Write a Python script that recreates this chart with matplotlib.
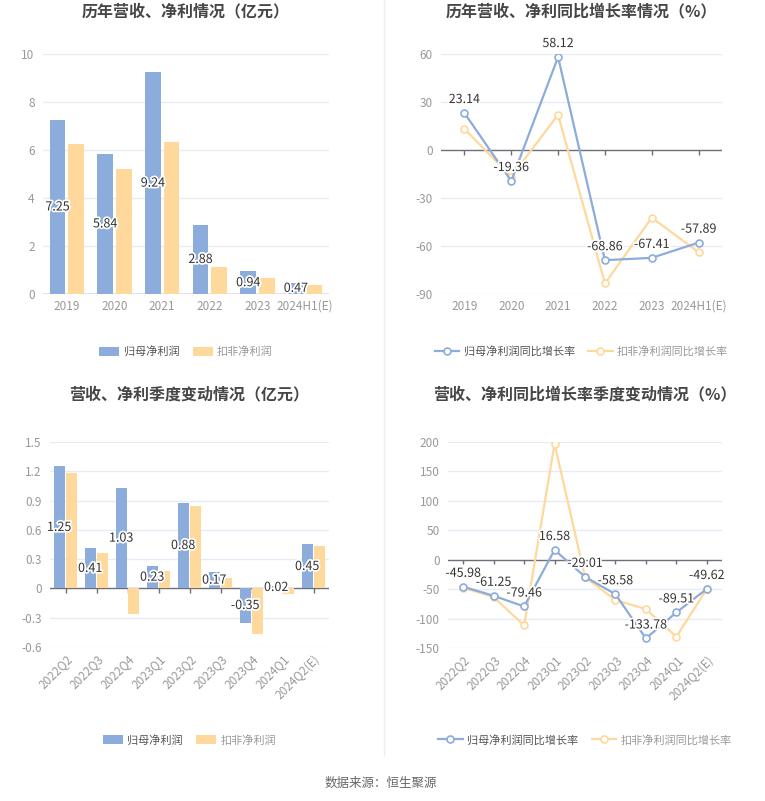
import matplotlib
matplotlib.use('Agg')
import matplotlib.pyplot as plt
import matplotlib.patheffects as pe
import numpy as np

plt.rcParams['font.family'] = ['Noto Sans CJK SC', 'DejaVu Sans']

# yearly data
years = ['2019', '2020', '2021', '2022', '2023', '2024H1(E)']
np_year = [7.25, 5.84, 9.24, 2.88, 0.94, 0.47]      # 归母净利润
kf_year = [6.24, 5.20, 6.35, 1.12, 0.66, 0.39]      # 扣非净利润
np_year_g = [23.14, -19.36, 58.12, -68.86, -67.41, -57.89]
kf_year_g = [13.2, -16.6, 22.0, -83.4, -42.3, -63.9]

# quarterly data
quarters = ['2022Q2', '2022Q3', '2022Q4', '2023Q1', '2023Q2', '2023Q3', '2023Q4', '2024Q1', '2024Q2(E)']
np_q = [1.25, 0.41, 1.03, 0.23, 0.88, 0.17, -0.35, 0.02, 0.45]
kf_q = [1.18, 0.36, -0.26, 0.18, 0.84, 0.11, -0.47, -0.06, 0.43]
np_q_g = [-45.98, -61.25, -79.46, 16.58, -29.01, -58.58, -133.78, -89.51, -49.62]
kf_q_g = [-47.6, -63.5, -111.6, 197.0, -29.5, -68.6, -83.9, -130.9, -49.9]

BLUE = '#8cacdb'
ORANGE = '#ffd89b'
GRID = '#e6ebf5'
AXIS = '#6e7079'
TICK = '#999999'
W, H = 765, 801

fig = plt.figure(figsize=(W / 100, H / 100), dpi=100)


def ax_at(x0, y0, x1, y1):
    return fig.add_axes([x0 / W, 1 - y1 / H, (x1 - x0) / W, (y1 - y0) / H])


def style(ax, labels, yticks, rotate=False):
    n = len(labels)
    ax.set_xlim(-0.5, n - 0.5)
    ax.set_ylim(yticks[0], yticks[-1])
    ax.set_yticks(yticks)
    ax.set_yticklabels([('%g' % t) for t in yticks], color=TICK, fontsize=8.5)
    ax.tick_params(axis='y', length=0, pad=6)
    for s in ax.spines.values():
        s.set_visible(False)
    for t in yticks:
        if t != 0:
            ax.axhline(t, color=GRID, lw=1, zorder=0)
    ax.axhline(0, color=AXIS, lw=1, zorder=1)
    span = yticks[-1] - yticks[0]
    ax.vlines(range(n), -span * 0.02, 0, color=AXIS, lw=1, zorder=1)
    ax.set_xticks(range(n))
    if rotate:
        ax.set_xticklabels(labels, rotation=45, ha='right', rotation_mode='anchor',
                           color=TICK, fontsize=8.5)
    else:
        ax.set_xticklabels(labels, color=TICK, fontsize=8.5)
    ax.tick_params(axis='x', length=0, pad=4)


def finish(ax, title, pad, legy, h, l, hl):
    ax.set_title(title, fontsize=11.5, fontweight='bold', color='#464646', pad=pad)
    leg = ax.legend(h, l, ncol=2, loc='center', bbox_to_anchor=(0.5, legy), frameon=False,
                    fontsize=8, handlelength=hl, handleheight=0.9, columnspacing=1.2,
                    handletextpad=0.4)
    leg.get_texts()[0].set_color('#555555')
    leg.get_texts()[1].set_color('#999999')


def bar_chart(ax, labels, a, b, width, yticks, rotate, title, pad, legy):
    x = np.arange(len(labels))
    off = width / 2 + 0.03
    ax.bar(x - off, a, width, color=BLUE, zorder=2, label='归母净利润')
    ax.bar(x + off, b, width, color=ORANGE, zorder=2, label='扣非净利润')
    style(ax, labels, yticks, rotate)
    for xi, v in zip(x, a):
        t = ax.text(xi - off, v / 2, '%.2f' % v, ha='center', va='center',
                    fontsize=9, color='#333333', zorder=4)
        t.set_path_effects([pe.withStroke(linewidth=2.5, foreground='white')])
    h, l = ax.get_legend_handles_labels()
    finish(ax, title, pad, legy, h, l, 1.8)


def line_chart(ax, labels, a, b, yticks, rotate, title, pad, legy):
    x = np.arange(len(labels))
    ax.plot(x, b, color=ORANGE, lw=1.6, marker='o', ms=5, mfc='white', mew=1.2,
            zorder=3, label='扣非净利润同比增长率')
    ax.plot(x, a, color=BLUE, lw=1.6, marker='o', ms=5, mfc='white', mew=1.2,
            zorder=4, label='归母净利润同比增长率')
    style(ax, labels, yticks, rotate)
    for xi, v in zip(x, a):
        t = ax.annotate('%.2f' % v, (xi, v), xytext=(0, 5), textcoords='offset points',
                        ha='center', va='bottom', fontsize=9, color='#333333', zorder=5)
        t.set_path_effects([pe.withStroke(linewidth=2.5, foreground='white')])
    h, l = ax.get_legend_handles_labels()
    finish(ax, title, pad, legy, h[::-1], l[::-1], 2.2)


ax1 = ax_at(43, 54, 329, 294)
bar_chart(ax1, years, np_year, kf_year, 0.33, [0, 2, 4, 6, 8, 10], False,
          '历年营收、净利情况（亿元）', 27, -0.24)

ax2 = ax_at(441, 54, 722, 294)
line_chart(ax2, years, np_year_g, kf_year_g, [-90, -60, -30, 0, 30, 60], False,
           '历年营收、净利同比增长率情况（%）', 27, -0.24)

ax3 = ax_at(50, 442, 329, 647)
bar_chart(ax3, quarters, np_q, kf_q, 0.345, [-0.6, -0.3, 0, 0.3, 0.6, 0.9, 1.2, 1.5], True,
          '营收、净利季度变动情况（亿元）', 31, -0.454)

ax4 = ax_at(448, 442, 722, 648)
line_chart(ax4, quarters, np_q_g, kf_q_g, [-150, -100, -50, 0, 50, 100, 150, 200], True,
           '营收、净利同比增长率季度变动情况（%）', 31, -0.447)

fig.add_artist(plt.Line2D([384 / W, 384 / W], [1 - 755 / H, 1], color='#eeeeee', lw=1))
fig.text(381 / W, 1 - 783 / H, '数据来源：恒生聚源', ha='center', va='center',
         fontsize=9, color='#666666')

fig.savefig('out.png', dpi=100, facecolor='white')
